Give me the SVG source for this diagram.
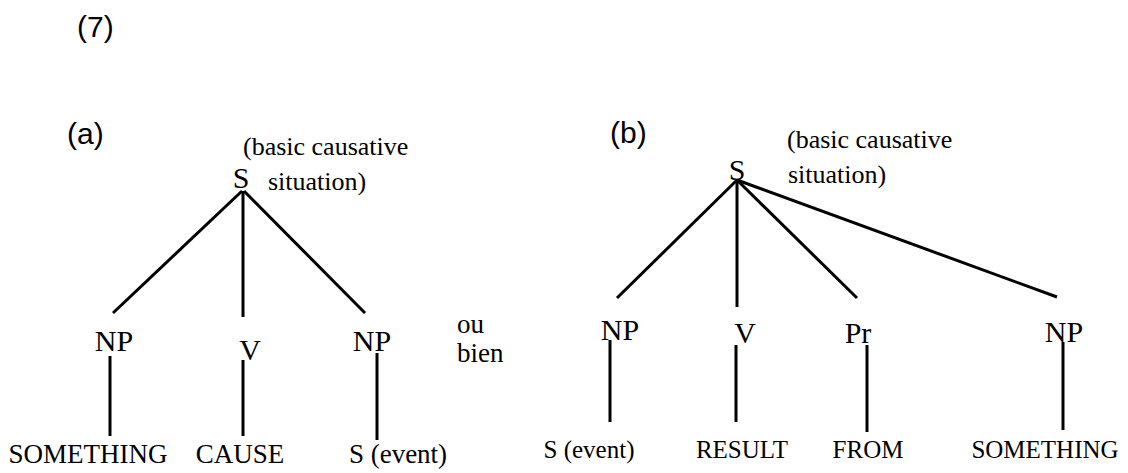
<svg xmlns="http://www.w3.org/2000/svg" width="1128" height="473" viewBox="0 0 1128 473">
<style>
.sans{font-family:"Liberation Sans",Arial,sans-serif;font-size:30px;fill:#000}
.ser{font-family:"Liberation Serif","Times New Roman",serif;fill:#000}
.cat{font-size:30px}
.lex{font-size:27px}
.lexb{font-size:25px}
.note{font-size:26px}
.c{text-anchor:middle}
.edges line{stroke:#000;stroke-width:3;stroke-linecap:butt}
</style>
<rect width="1128" height="473" fill="#fff"/>
<g id="labels">
<text class="sans" x="77" y="37">(7)</text>
<text class="sans" x="67" y="144">(a)</text>
<text class="sans" x="610" y="143">(b)</text>
<text class="ser lex" x="457" y="333">ou</text>
<text class="ser lex" x="457" y="362">bien</text>
</g>
<g id="a-S"><text class="ser cat c" x="241" y="188">S</text>
<text class="ser note" x="243" y="155">(basic causative</text>
<text class="ser note" x="268" y="190">situation)</text></g>
<g id="a-NP1"><text class="ser cat c" x="114" y="351">NP</text></g>
<g id="a-V"><text class="ser cat c" x="250" y="360">V</text></g>
<g id="a-NP2"><text class="ser cat c" x="372" y="351">NP</text></g>
<g id="a-SOMETHING"><text class="ser lex c" x="88" y="463">SOMETHING</text></g>
<g id="a-CAUSE"><text class="ser lex c" x="240" y="463">CAUSE</text></g>
<g id="a-Sevent"><text class="ser lex c" x="398" y="463">S (event)</text></g>
<g id="b-S"><text class="ser cat c" x="737" y="180">S</text>
<text class="ser note" x="787" y="148">(basic causative</text>
<text class="ser note" x="788" y="183">situation)</text></g>
<g id="b-NP1"><text class="ser cat c" x="620" y="340">NP</text></g>
<g id="b-V"><text class="ser cat c" x="745" y="343">V</text></g>
<g id="b-Pr"><text class="ser cat c" x="858" y="343">Pr</text></g>
<g id="b-NP2"><text class="ser cat c" x="1064" y="342">NP</text></g>
<g id="b-Sevent"><text class="ser lexb c" x="589" y="458">S (event)</text></g>
<g id="b-RESULT"><text class="ser lexb c" x="742" y="458">RESULT</text></g>
<g id="b-FROM"><text class="ser lexb c" x="868" y="458">FROM</text></g>
<g id="b-SOMETHING"><text class="ser lexb c" x="1045" y="458">SOMETHING</text></g>
<g id="connectors" class="edges">
<line x1="242" y1="191" x2="113" y2="313"/>
<line x1="243" y1="191" x2="243" y2="317"/>
<line x1="244" y1="191" x2="365" y2="313"/>
<line x1="110" y1="356" x2="110" y2="436"/>
<line x1="243" y1="360" x2="243" y2="436"/>
<line x1="377" y1="353" x2="377" y2="440"/>
<line x1="737" y1="180" x2="617" y2="298"/>
<line x1="737" y1="180" x2="737" y2="307"/>
<line x1="737" y1="180" x2="857" y2="298"/>
<line x1="737" y1="180" x2="1057" y2="297"/>
<line x1="610" y1="340" x2="610" y2="422"/>
<line x1="736" y1="345" x2="736" y2="422"/>
<line x1="867" y1="345" x2="867" y2="432"/>
<line x1="1063" y1="342" x2="1063" y2="430"/>
</g>
</svg>
